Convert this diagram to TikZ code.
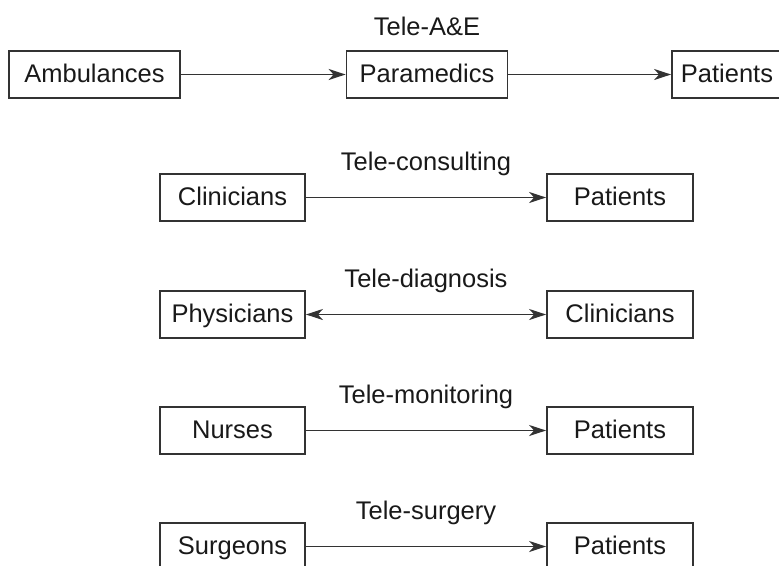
\documentclass[tikz,border=0pt]{standalone}
\usepackage{fontspec}
\setmainfont{Liberation Sans}
\usepackage{tikz}
\usetikzlibrary{arrows.meta}

\begin{document}
\begin{tikzpicture}[x=1pt, y=-1pt,
        font=\fontsize{25.5}{30}\selectfont,
        box/.style={draw=black!80, line width=1.8pt, rectangle, minimum height=47pt, inner sep=0pt,
            text height=19pt, text depth=4pt, text=black!90},
        link/.style={draw=black!80, line width=1.8pt, -{Stealth[length=17pt, width=11pt, inset=5pt]}},
        twolink/.style={link, {Stealth[length=17pt, width=11pt, inset=5pt]}-{Stealth[length=17pt, width=11pt, inset=5pt]}},
        tag/.style={anchor=base, text=black!90}]
        \useasboundingbox (0,0) rectangle (779,565);

        % Tele-A&E
        \node[box, minimum width=171pt] (amb) at (94.5,74.5) {Ambulances};
        \node[box, minimum width=161pt] (para) at (427,74.5) {Paramedics};
        \node[box, minimum width=110pt] (pat1) at (727,74.5) {Patients};
        \node[tag] (tae) at (427,35) {Tele-A\&E};

        % Tele-consulting
        \node[box, minimum width=145pt] (clin1) at (232.5,197.5) {Clinicians};
        \node[box, minimum width=146pt] (pat2) at (620,197.5) {Patients};
        \node[tag] (tcons) at (426,170) {Tele-consulting};

        % Tele-diagnosis
        \node[box, minimum width=145pt] (phys) at (232.5,314.5) {Physicians};
        \node[box, minimum width=146pt] (clin2) at (620,314.5) {Clinicians};
        \node[tag] (tdiag) at (426,287) {Tele-diagnosis};

        % Tele-monitoring
        \node[box, minimum width=145pt] (nurse) at (232.5,430.5) {Nurses};
        \node[box, minimum width=146pt] (pat3) at (620,430.5) {Patients};
        \node[tag] (tmon) at (426,403) {Tele-monitoring};

        % Tele-surgery
        \node[box, minimum width=145pt] (surg) at (232.5,546.5) {Surgeons};
        \node[box, minimum width=146pt] (pat4) at (620,546.5) {Patients};
        \node[tag] (tsurg) at (426,519) {Tele-surgery};

        \draw[link] (amb) -- (para);
        \draw[link] (para) -- (pat1);
        \draw[link] (clin1) -- (pat2);
        \draw[twolink] (phys) -- (clin2);
        \draw[link] (nurse) -- (pat3);
        \draw[link] (surg) -- (pat4);
    \end{tikzpicture}
\end{document}
